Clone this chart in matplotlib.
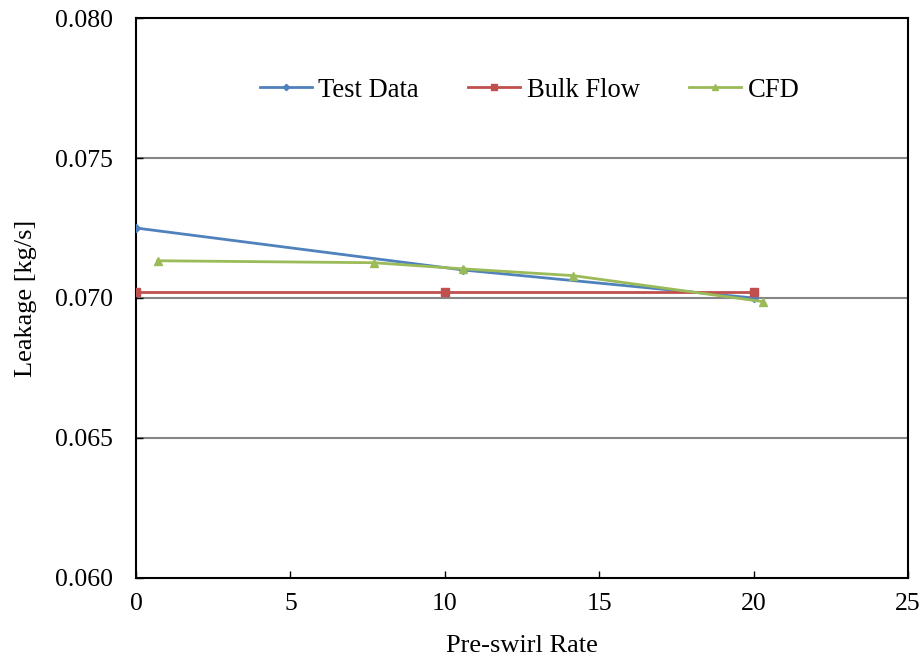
import matplotlib
matplotlib.use('Agg')
import matplotlib.pyplot as plt

# values
test_x = [0, 10.6, 20.0]
test_y = [0.0725, 0.0710, 0.0700]
bulk_x = [0, 10, 20]
bulk_y = [0.07021, 0.07021, 0.07021]
cfd_x = [0.7, 7.7, 10.6, 14.15, 20.3]
cfd_y = [0.07133, 0.07126, 0.07104, 0.07080, 0.06987]

xticks = [0, 5, 10, 15, 20, 25]
yticks = [0.060, 0.065, 0.070, 0.075, 0.080]

plt.rcParams['font.family'] = ['Liberation Serif', 'DejaVu Serif']
fs = 18.5

fig = plt.figure(figsize=(9.24, 6.6), dpi=100)
ax = fig.add_axes([136/924, 1 - 578/660, (908-136)/924, (578-18)/660])

for y in yticks[1:-1]:
    ax.axhline(y, color='#868686', lw=1.5, zorder=1)

ax.plot(test_x, test_y, color='#4F81BD', lw=2, marker='D', ms=4, label='Test Data', zorder=3)
ax.plot(bulk_x, bulk_y, color='#C0504D', lw=2, marker='s', ms=5.5, label='Bulk Flow', zorder=3)
ax.plot(cfd_x, cfd_y, color='#9BBB59', lw=2, marker='^', ms=6, label='CFD', zorder=4)

ax.set_xlim(0, 25)
ax.set_ylim(0.060, 0.080)
ax.set_xticks(xticks)
ax.set_yticks(yticks)
ax.set_yticklabels(['%.3f' % v for v in yticks])
ax.tick_params(direction='in', length=5, width=1, labelsize=fs, colors='black')
ax.tick_params(axis='y', pad=16.5)
ax.tick_params(axis='x', pad=11)
for s in ax.spines.values():
    s.set_linewidth(1.5)
    s.set_color('black')

ax.set_xlabel('Pre-swirl Rate', fontsize=19, labelpad=14)
ax.set_ylabel('Leakage [kg/s]', fontsize=19, labelpad=13)

leg = ax.legend(loc='center', bbox_to_anchor=(0.51, 0.871), ncol=3, frameon=False,
                fontsize=19.2, handlelength=1.95, handletextpad=0.25, columnspacing=1.85,
                markerscale=0.8)

fig.savefig('out.png', dpi=100)
